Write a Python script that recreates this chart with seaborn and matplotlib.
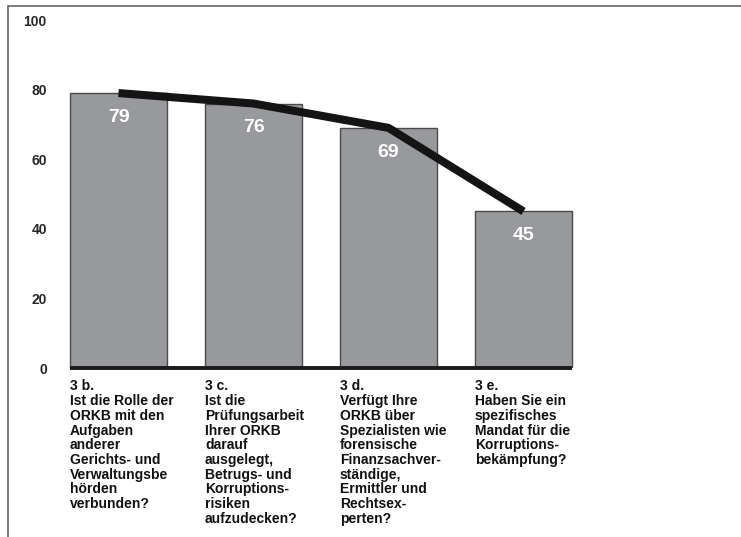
import numpy as np
import pandas as pd
import matplotlib
matplotlib.use("Agg")
import matplotlib.pyplot as plt
from matplotlib.lines import Line2D
import seaborn as sns

categories = ["3 b.", "3 c.", "3 d.", "3 e."]
values = [79, 76, 69, 45]
questions = [
    "Ist die Rolle der\nORKB mit den\nAufgaben\nanderer\nGerichts- und\nVerwaltungsbe\nhörden\nverbunden?",
    "Ist die\nPrüfungsarbeit\nIhrer ORKB\ndarauf\nausgelegt,\nBetrugs- und\nKorruptions-\nrisiken\naufzudecken?",
    "Verfügt Ihre\nORKB über\nSpezialisten wie\nforensische\nFinanzsachver-\nständige,\nErmittler und\nRechtsex-\nperten?",
    "Haben Sie ein\nspezifisches\nMandat für die\nKorruptions-\nbekämpfung?",
]
yticks = [0, 20, 40, 60, 80, 100]

sns.set_style("white")
plt.rcParams["font.family"] = ["Liberation Sans", "DejaVu Sans"]

df = pd.DataFrame({"cat": categories, "val": values})

W, H = 741, 537
fig = plt.figure(figsize=(W / 100, H / 100), dpi=100)
ax_left, ax_right = 51, 591
ax_bottom, ax_top = 537 - 368, 537 - 20
ax = fig.add_axes([ax_left / W, ax_bottom / H, (ax_right - ax_left) / W, (ax_top - ax_bottom) / H])

bw = 0.72
sns.barplot(data=df, x="cat", y="val", ax=ax, color="#98999c", width=bw,
            edgecolor="#4a4a4a", linewidth=1.0, saturation=1)
x = np.arange(len(values))
ax.plot(x, values, color="#141414", linewidth=5.8, solid_capstyle="butt", zorder=5, clip_on=False)

for i, v in enumerate(values):
    ax.text(i, v - 7.0, str(v), ha="center", va="center", color="white",
            fontsize=14, fontweight="bold", zorder=6)

ax.hlines(0, -bw / 2, len(values) - 1 + bw / 2, color="#1a1a1a", linewidth=2.8, zorder=7, clip_on=False)

ax.set_xlim(-0.5, 3.5)
ax.set_ylim(0, 100)
ax.set_yticks(yticks)
ax.set_yticklabels([str(t) for t in yticks], fontsize=10, fontweight="bold")
ax.tick_params(axis="y", length=0, pad=3)
ax.set_xticks([])
ax.set_xlabel("")
ax.set_ylabel("")
for s in ax.spines.values():
    s.set_visible(False)

for i, (c, q) in enumerate(zip(categories, questions)):
    ax.text(i - bw / 2, -3.3, c + "\n" + q, ha="left", va="top", fontsize=10,
            fontweight="bold", linespacing=1.065, clip_on=False, color="#111111")

fig.add_artist(Line2D([8 / W, 1], [1 - 6 / H, 1 - 6 / H], color="#666666", linewidth=1.2, transform=fig.transFigure))
fig.add_artist(Line2D([8 / W, 8 / W], [0, 1 - 6 / H], color="#666666", linewidth=1.2, transform=fig.transFigure))

fig.savefig("out.png", dpi=100)
